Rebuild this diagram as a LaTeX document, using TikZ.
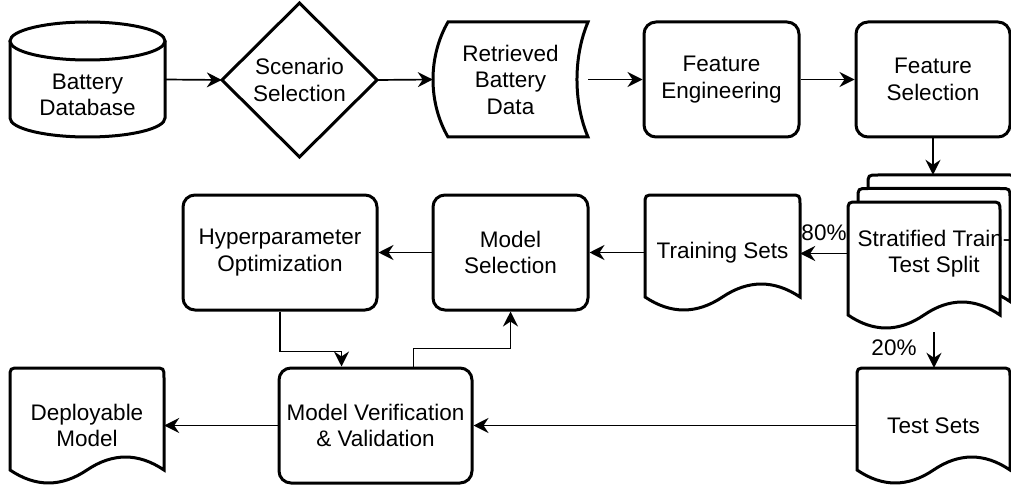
\documentclass[tikz,border=0pt]{standalone}
\usepackage{fontspec}
\setmainfont{Liberation Sans}
\usetikzlibrary{arrows.meta}
\tikzset{
  shp/.style={draw=black, fill=white, line width=3pt},
  hold/.style={inner sep=0pt, align=center, minimum width=155pt, minimum height=115pt},
  box/.style={draw=black, fill=white, line width=3pt, rounded corners=12pt, inner sep=0pt, align=center, minimum width=155pt, minimum height=115pt},
  arr/.style={line width=1.7pt, -{Stealth[length=15pt,width=15pt,inset=5pt]}},
  lbl/.style={inner sep=0pt}
}
% document shape: x1, top, x2, wave base line
\newcommand{\docshape}[4]{%
  \pgfmathsetmacro{\dsW}{#3-#1}%
  \pgfmathsetmacro{\dsA}{#1+\dsW/6}%
  \pgfmathsetmacro{\dsB}{#1+\dsW/3}%
  \pgfmathsetmacro{\dsM}{#1+\dsW/2}%
  \pgfmathsetmacro{\dsC}{#1+2*\dsW/3}%
  \pgfmathsetmacro{\dsD}{#1+5*\dsW/6}%
  \pgfmathsetmacro{\dsDown}{#4+17.3}%
  \pgfmathsetmacro{\dsUp}{#4-17.3}%
  \draw[shp] (#1,#4) -- (#1,#2+10) .. controls (#1,#2) .. (#1+10,#2) -- (#3-10,#2)
    .. controls (#3,#2) .. (#3,#2+10) -- (#3,#4)
    .. controls (\dsD,\dsUp) and (\dsC,\dsUp) .. (\dsM,#4)
    .. controls (\dsB,\dsDown) and (\dsA,\dsDown) .. (#1,#4) -- cycle;%
}
\begin{document}
\begin{tikzpicture}[x=1pt,y=-1pt,font=\fontsize{22.5pt}{26.5pt}\selectfont]
\fill[white] (0,0) rectangle (1011,489);
\useasboundingbox (0,0) rectangle (1011,489);

% ---- shapes drawn directly ----
% cylinder
\fill[white] (10,41) -- (10,118) .. controls (10,128.5) and (44.7,137) .. (87.5,137)
  .. controls (130.3,137) and (165,128.5) .. (165,118) -- (165,41) -- cycle;
\draw[line width=3pt] (10,41) -- (10,118) .. controls (10,128.5) and (44.7,137) .. (87.5,137)
  .. controls (130.3,137) and (165,128.5) .. (165,118) -- (165,41);
\draw[shp] (87.5,41) ellipse [x radius=77.5pt, y radius=19pt];
% diamond
\draw[shp] (222,80) -- (299.5,3) -- (377,80) -- (299.5,157) -- cycle;
% stored data
\draw[shp] (448,22) -- (588,22) .. controls (573.3,56.5) and (573.3,102.5) .. (588,137)
  -- (448,137) .. controls (428,102.5) and (428,56.5) .. cycle;
% multi document
\docshape{868}{175}{1020}{288}
\docshape{858}{188.5}{1010}{301.5}
\docshape{848}{202}{1000}{315}
% documents
\docshape{645}{195}{800}{297}
\docshape{10}{368}{164}{470}
\docshape{857}{368}{1010}{470}

% ---- nodes ----
\node[hold] (db) at (87.5,79.5) {};
\node[lbl, align=center] (dbtext) at (87.5,95) {Battery\\Database};
\node[hold, minimum height=155pt] (sc) at (299.5,80) {Scenario\\Selection};
\node[hold] (rd) at (510.5,79.5) {Retrieved\\Battery\\Data};
\node[box] (fe) at (721.5,79.5) {Feature\\Engineering};
\node[box, minimum width=154pt] (fs) at (933,79.5) {Feature\\Selection};
\node[hold, minimum width=172pt, minimum height=157pt] (split) at (934,253.5) {Stratified Train-\\Test Split};
\node[hold] (tr) at (722.5,252.5) {Training Sets};
\node[box] (msel) at (510.5,252.5) {Model\\Selection};
\node[box, minimum width=194pt] (ho) at (280,252.5) {Hyperparameter\\Optimization};
\node[box, minimum width=193pt] (vv) at (375.5,425.5) {Model Verification\\\& Validation};
\node[hold, minimum width=154pt] (dm) at (87,425.5) {Deployable\\Model};
\node[hold, minimum width=153pt] (ts) at (933.5,425.5) {Test Sets};

% ---- connectors ----
\draw[arr] (db.east) -- (sc.west);
\draw[arr] (sc.east) -- (rd.west);
\draw[arr] (rd.east) -- (fe.west);
\draw[arr] (fe.east) -- (fs.west);
\draw[arr] (fs.south) -- (fs.south |- split.north);
\draw[arr] (split.west) -- node[lbl, yshift=21pt] (l80) {80\%} (split.west -| tr.east);
\draw[arr] (tr.west) -- (msel.east);
\draw[arr] (msel.west) -- (ho.east);
\draw[arr] (split.south) -- node[lbl, xshift=-40pt, yshift=2pt] (l20) {20\%} (split.south |- ts.north);
\draw[arr] (ts.west) -- (vv.east);
\draw[arr] (vv.west) -- (dm.east);
\draw[arr] (ho.south) -- ++(0,40) -| ([xshift=64pt]vv.north west);
\draw[arr] ([xshift=136pt]vv.north west) -- ++(0,-18) -| (msel.south);
\end{tikzpicture}
\end{document}
